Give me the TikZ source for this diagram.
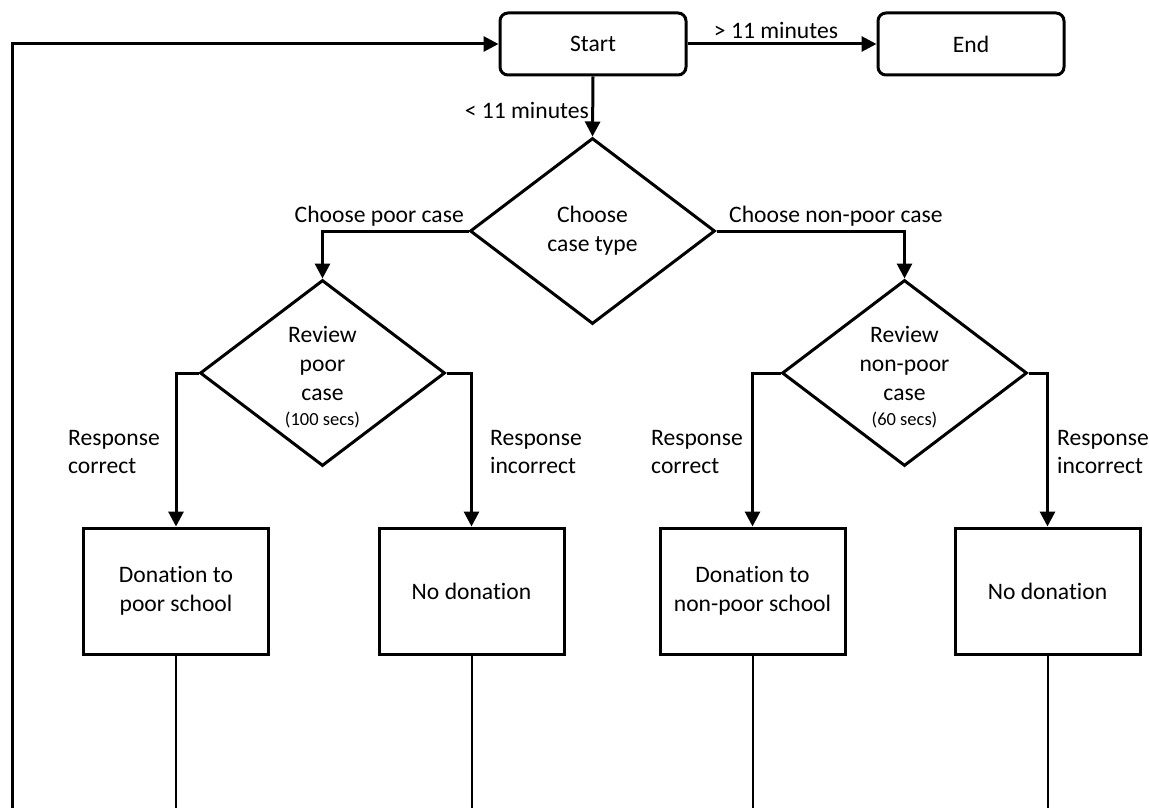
\documentclass[tikz,border=0pt]{standalone}
\usepackage{fontspec}
\setmainfont{Carlito}[Ligatures=NoCommon]
\usetikzlibrary{shapes.geometric,arrows.meta}
\newcommand{\bigf}{\fontsize{23.6}{28.8}\selectfont}
\newcommand{\smallf}{\fontsize{18.5}{22}\selectfont}
\begin{document}
\begin{tikzpicture}[x=1pt,y=-1pt,
  every node/.style={font=\bigf},
  term/.style={draw,rounded corners=8pt,line width=3pt,minimum width=186pt,minimum height=62pt,inner sep=0pt},
  dia/.style={draw,diamond,line width=3pt,minimum width=245pt,minimum height=186pt,inner sep=0pt},
  boxn/.style={draw,rectangle,line width=3pt,minimum width=185pt,minimum height=126pt,inner sep=0pt,align=center},
  txt/.style={align=center,inner sep=0pt},
  lbl/.style={align=left,inner sep=0pt},
  arr/.style={line width=3pt,-{Triangle[length=15pt,width=15pt]}},
  conn/.style={line width=3pt},
  tail/.style={line width=2pt}]
\useasboundingbox (0,0) rectangle (1149,808);
\node[term] (start) at (593,44) {Start};
\node[term] (end) at (971,44) {End};
\node[dia] (d1) at (592.5,231) {};
\node[txt] (t1) at (592.5,231) {Choose\\case type};
\node[dia] (d2) at (322.5,373) {};
\node[txt] (t2) at (322.5,377) {Review\\poor\\case\\[-4pt]{\smallf (100 secs)}};
\node[dia] (d3) at (904.5,373) {};
\node[txt] (t3) at (904.5,377) {Review\\non-poor\\case\\[-4pt]{\smallf (60 secs)}};
\node[boxn] (b1) at (176,591) {Donation to\\poor school};
\node[boxn] (b2) at (471.5,591) {No donation};
\node[boxn] (b3) at (752.5,591) {Donation to\\non-poor school};
\node[boxn] (b4) at (1047.5,591) {No donation};
% labels
\node[inner sep=0pt] (l1) at (776,30) {> 11 minutes};
\node[inner sep=0pt,anchor=east] (l2) at (589,110) {< 11 minutes};
\node[inner sep=0pt,anchor=east] (l3) at (464,216) {Choose poor case};
\node[inner sep=0pt,anchor=west] (l4) at (729,216) {Choose non-poor case};
\node[lbl,anchor=west] (l5) at (68,452) {Response\\correct};
\node[lbl,anchor=west] (l6) at (490,452) {Response\\incorrect};
\node[lbl,anchor=west] (l7) at (651,452) {Response\\correct};
\node[lbl,anchor=west] (l8) at (1057,452) {Response\\incorrect};
% connectors
\draw[arr] (start.east) -- (end.west);
\draw[arr] (start.south) -- (d1.north);
\draw[arr] (d1.west) -| (d2.north);
\draw[arr] (d1.east) -| (d3.north);
\draw[arr] (d2.west) -| (b1.north);
\draw[arr] (d2.east) -| (b2.north);
\draw[arr] (d3.west) -| (b3.north);
\draw[arr] (d3.east) -| (b4.north);
\coordinate (loop) at (12,808);
\draw[arr] (loop) |- (start.west);
\coordinate (e1) at (176,808);
\coordinate (e2) at (471.5,808);
\coordinate (e3) at (752.5,808);
\coordinate (e4) at (1047.5,808);
\draw[tail] (b1.south) -- (e1);
\draw[tail] (b2.south) -- (e2);
\draw[tail] (b3.south) -- (e3);
\draw[tail] (b4.south) -- (e4);
\end{tikzpicture}
\end{document}
